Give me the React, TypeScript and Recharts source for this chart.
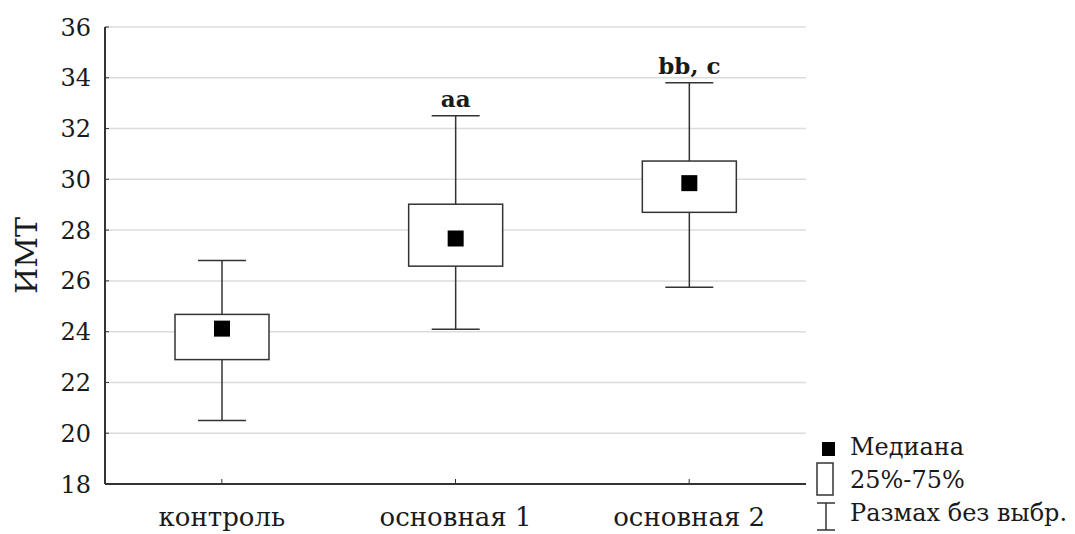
import { Bar, CartesianGrid, ComposedChart, XAxis, YAxis } from "recharts"

// box-plot statistics per group (BMI)
const groups = ["контроль", "основная 1", "основная 2"]
const mins = [20.5, 24.1, 25.75]
const q1s = [22.9, 26.58, 28.7]
const medians = [24.12, 27.67, 29.85]
const q3s = [24.68, 29.02, 30.72]
const maxs = [26.8, 32.5, 33.8]
const notes = ["", "aa", "bb, c"]
const yTicks = [18, 20, 22, 24, 26, 28, 30, 32, 34, 36]

const data = groups.map((name, i) => ({
  name,
  range: [mins[i], maxs[i]],
  min: mins[i],
  q1: q1s[i],
  median: medians[i],
  q3: q3s[i],
  max: maxs[i],
  note: notes[i],
}))

const FONT = "'DejaVu Serif', serif"
const INK = "#333"
const TEXT = "#1a1a1a"

function BoxShape(props: any) {
  const { x, y, width, height, payload } = props
  const top = height < 0 ? y + height : y
  const h = Math.abs(height)
  const cx = x + width / 2
  const py = (v: number) => top + ((payload.max - v) / (payload.max - payload.min)) * h
  const cap = 24
  const m = 8
  return (
    <g>
      <line x1={cx} x2={cx} y1={py(payload.max)} y2={py(payload.min)} stroke={INK} strokeWidth={1.5} />
      <line x1={cx - cap} x2={cx + cap} y1={py(payload.max)} y2={py(payload.max)} stroke={INK} strokeWidth={1.5} />
      <line x1={cx - cap} x2={cx + cap} y1={py(payload.min)} y2={py(payload.min)} stroke={INK} strokeWidth={1.5} />
      <rect
        x={x}
        y={py(payload.q3)}
        width={width}
        height={py(payload.q1) - py(payload.q3)}
        fill="#fff"
        stroke={INK}
        strokeWidth={1.5}
      />
      <rect x={cx - m} y={py(payload.median) - m} width={m * 2} height={m * 2} fill="#000" />
      {payload.note && (
        <text
          x={cx}
          y={py(payload.max) - 9}
          textAnchor="middle"
          fontFamily={FONT}
          fontWeight="bold"
          fontSize={23}
          fill={TEXT}
        >
          {payload.note}
        </text>
      )}
    </g>
  )
}

function LegendBox() {
  return (
    <svg width={259} height={100} style={{ position: "absolute", left: 808, top: 427, overflow: "visible" }}>
      <rect x={6} y={7} width={13} height={14} fill="#000" />
      <text x={34} y={20} fontFamily={FONT} fontSize={24} fill={TEXT}>Медиана</text>
      <rect x={1} y={28} width={16} height={32} fill="#fff" stroke={INK} strokeWidth={1.5} />
      <text x={34} y={53} fontFamily={FONT} fontSize={24} fill={TEXT}>25%-75%</text>
      <line x1={10} x2={10} y1={68} y2={95} stroke={INK} strokeWidth={1.5} />
      <line x1={1} x2={19} y1={68} y2={68} stroke={INK} strokeWidth={1.5} />
      <line x1={1} x2={19} y1={95} y2={95} stroke={INK} strokeWidth={1.5} />
      <text x={34} y={86} fontFamily={FONT} fontSize={24} fill={TEXT}>Размах без выбр.</text>
    </svg>
  )
}

export default function App() {
  return (
    <div style={{ position: "relative", width: 1059, height: 526, background: "#fff", fontFamily: FONT }}>
      <ComposedChart
        width={1059}
        height={526}
        data={data}
        margin={{ top: 19, right: 261, bottom: 8, left: 0 }}
        style={{ fontFamily: FONT }}
      >
        <CartesianGrid vertical={false} stroke="#dcdcdc" strokeWidth={1.5} />
        <XAxis
          dataKey="name"
          height={42}
          axisLine={{ stroke: INK, strokeWidth: 2 }}
          tickLine={{ stroke: INK }}
          tickSize={-5}
          tickMargin={29}
          tick={{ fontFamily: FONT, fontSize: 26, fill: TEXT }}
          interval={0}
        />
        <XAxis
          xAxisId="top"
          dataKey="name"
          orientation="top"
          height={0}
          axisLine={{ stroke: INK, strokeWidth: 2 }}
          tickLine={{ stroke: INK }}
          tickSize={-5}
          tick={false}
        />
        <YAxis
          domain={[18, 36]}
          ticks={yTicks}
          width={97}
          axisLine={{ stroke: INK, strokeWidth: 2 }}
          tickLine={{ stroke: INK }}
          tickSize={-4}
          tickMargin={18}
          tick={{ fontFamily: FONT, fontSize: 24, fill: TEXT }}
          label={(p: any) => (
            <text
              transform={`translate(29, ${(p.viewBox?.y ?? 19) + (p.viewBox?.height ?? 457) / 2}) rotate(-90)`}
              textAnchor="middle"
              fontFamily={FONT}
              fontSize={30}
              fill={TEXT}
            >
              ИМТ
            </text>
          )}
        />
        <YAxis
          yAxisId="right"
          orientation="right"
          width={0}
          domain={[18, 36]}
          axisLine={{ stroke: INK, strokeWidth: 2 }}
          tick={false}
          tickLine={false}
        />
        <Bar dataKey="range" barSize={94} shape={BoxShape} isAnimationActive={false} />
      </ComposedChart>
      <LegendBox />
    </div>
  )
}
